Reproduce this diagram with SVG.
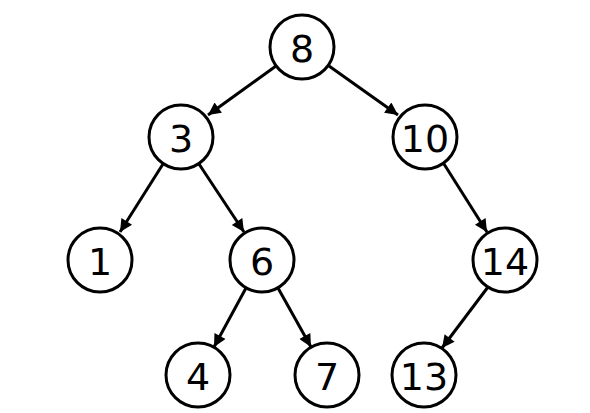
<svg xmlns="http://www.w3.org/2000/svg" width="590" height="413" viewBox="0 0 590 413">
<style>
.n circle{fill:#fff;stroke:#000;stroke-width:3}
.n text{font-family:"DejaVu Sans",sans-serif;font-size:38px;text-anchor:middle;dominant-baseline:central;fill:#000}
.e line{stroke:#000;stroke-width:3;marker-end:url(#a)}
</style>
<defs>
<marker id="a" viewBox="0 0 10 10" refX="10" refY="5" markerWidth="6.8" markerHeight="4.2" markerUnits="strokeWidth" orient="auto">
<path d="M0,0 L10,5 L0,10 z" fill="#000"/>
</marker>
</defs>
<rect width="590" height="413" fill="#fff"/>
<g id="edges" class="e">
<line x1="276" y1="66" x2="208" y2="115"/>
<line x1="329" y1="66" x2="398" y2="115"/>
<line x1="163" y1="164" x2="120" y2="232"/>
<line x1="199" y1="164" x2="244" y2="232"/>
<line x1="444" y1="164" x2="487" y2="232"/>
<line x1="246" y1="288" x2="214" y2="347"/>
<line x1="278" y1="288" x2="311" y2="347"/>
<line x1="488" y1="287" x2="442" y2="348"/>
</g>
<g id="n8" class="n"><circle cx="302" cy="47" r="32"/><text x="302" y="49">8</text></g>
<g id="n3" class="n"><circle cx="181" cy="137" r="32"/><text x="181" y="139">3</text></g>
<g id="n10" class="n"><circle cx="425" cy="137" r="32"/><text x="425" y="139">10</text></g>
<g id="n1" class="n"><circle cx="100" cy="260" r="32"/><text x="100" y="262">1</text></g>
<g id="n6" class="n"><circle cx="262" cy="260" r="32"/><text x="262" y="262">6</text></g>
<g id="n14" class="n"><circle cx="505" cy="260" r="32"/><text x="505" y="262">14</text></g>
<g id="n4" class="n"><circle cx="198" cy="375" r="32"/><text x="198" y="377">4</text></g>
<g id="n7" class="n"><circle cx="327" cy="375" r="32"/><text x="327" y="377">7</text></g>
<g id="n13" class="n"><circle cx="424" cy="375" r="32"/><text x="424" y="377">13</text></g>
</svg>
